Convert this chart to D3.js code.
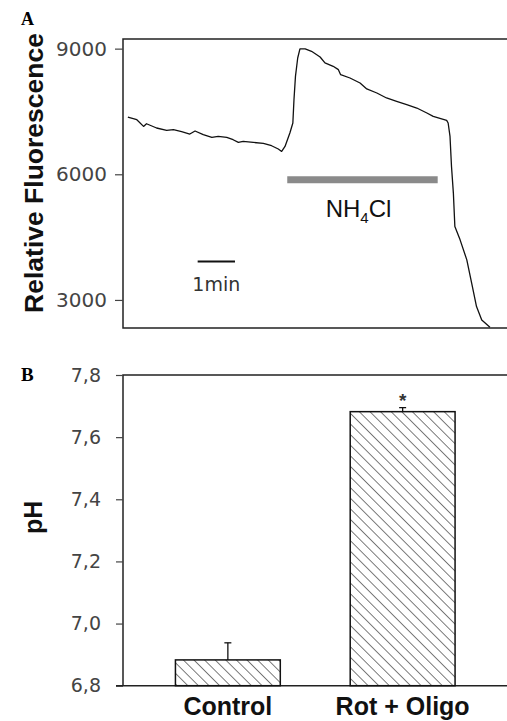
<!DOCTYPE html>
<html>
<head>
<meta charset="utf-8">
<script src="https://cdn.jsdelivr.net/npm/d3@7"></script>
<style>
  body { margin: 0; background: #fff; }
  svg { display: block; }
</style>
</head>
<body>
<div id="chart"></div>
<script>
// Panel A: fluorescence trace (time in min, relative fluorescence)
const traceTime = [0.13, 0.37, 0.55, 0.63, 0.90, 1.17, 1.35, 1.57, 1.79, 1.93, 2.15, 2.38, 2.55, 2.78, 2.95,
  3.09, 3.22, 3.49, 3.76, 3.98, 4.16, 4.25, 4.34, 4.47, 4.55, 4.58, 4.62, 4.68, 4.74, 4.88, 5.05, 5.28,
  5.41, 5.63, 5.77, 5.83, 6.08, 6.35, 6.53, 6.80, 7.06, 7.33, 7.60, 7.87, 8.14, 8.31, 8.67, 8.71, 8.76,
  8.80, 8.85, 8.89, 9.03, 9.21, 9.34, 9.47, 9.61, 9.83];
const traceValue = [7367, 7303, 7143, 7207, 7105, 7047, 7064, 7016, 6961, 7033, 6945, 6880, 6904, 6880, 6825,
  6761, 6785, 6761, 6737, 6682, 6603, 6546, 6665, 6985, 7224, 7781, 8338, 8777, 8992, 8992, 8936, 8801,
  8658, 8578, 8498, 8379, 8299, 8180, 8037, 7941, 7822, 7741, 7662, 7582, 7463, 7382, 7286, 7224, 6904,
  6187, 5551, 4753, 4435, 3957, 3400, 2841, 2523, 2349];
const ticksA = [3000, 6000, 9000];
const nh4clSpan = [4.40, 8.43];   // minutes
const nh4clLevel = 5870;
const scaleBarSpan = [2, 3];      // 1 min
const scaleBarLevel = 3920;

// Panel B: pH bars
const groups = ["Control", "Rot + Oligo"];
const phMean = [6.883, 7.682];
const phErr = [0.055, 0.013];
const phMarks = ["", "*"];
const ticksB = [6.8, 7.0, 7.2, 7.4, 7.6, 7.8];

const W = 507, H = 721;
const svg = d3.select('#chart').append('svg')
  .attr('width', W)
  .attr('height', H);

// hatch "\\\\" for the bars
const defs = svg.append('defs');
const hatch = defs.append('pattern')
  .attr('id', 'hatch')
  .attr('patternUnits', 'userSpaceOnUse')
  .attr('width', 7.5)
  .attr('height', 7.5)
  .attr('patternTransform', 'rotate(-45)');
hatch.append('line')
  .attr('x1', 0).attr('y1', 0)
  .attr('x2', 0).attr('y2', 7.5)
  .attr('stroke', '#111')
  .attr('stroke-width', 1.1);

const tickFont = '"DejaVu Sans", sans-serif';
const boldFont = '"Liberation Sans", Arial, sans-serif';

// ---------- Panel A ----------
const xA = d3.scaleLinear().domain([0, 10.3]).range([123, 507.5]);
const yA = d3.scaleLinear().domain([2330, 9230]).range([328, 39]);

const gA = svg.append('g');

gA.append('path')
  .attr('d', `M${xA.range()[1] + 5},${yA.range()[1]}H${xA.range()[0]}V${yA.range()[0]}H${xA.range()[1] + 5}`)
  .attr('fill', 'none')
  .attr('stroke', '#222')
  .attr('stroke-width', 1.5);

const axA = gA.append('g')
  .attr('transform', `translate(${xA.range()[0]},0)`)
  .call(d3.axisLeft(yA).tickValues(ticksA).tickSize(8).tickPadding(8).tickFormat(d3.format('d')));
axA.select('.domain').remove();
axA.selectAll('line').attr('stroke', '#444').attr('stroke-width', 1.2);
axA.selectAll('text')
  .attr('font-family', tickFont)
  .attr('font-size', 20)
  .attr('fill', '#444');

const trace = traceTime.map((t, i) => [t, traceValue[i]]);
gA.append('path')
  .datum(trace)
  .attr('fill', 'none')
  .attr('stroke', '#111')
  .attr('stroke-width', 1.3)
  .attr('stroke-linejoin', 'round')
  .attr('d', d3.line().x(d => xA(d[0])).y(d => yA(d[1])));

// NH4Cl bar
gA.append('line')
  .attr('x1', xA(nh4clSpan[0])).attr('x2', xA(nh4clSpan[1]))
  .attr('y1', yA(nh4clLevel)).attr('y2', yA(nh4clLevel))
  .attr('stroke', '#8a8a8a')
  .attr('stroke-width', 7);

const nh = gA.append('text')
  .attr('x', xA((nh4clSpan[0] + nh4clSpan[1]) / 2) - 4)
  .attr('y', yA(nh4clLevel) + 37)
  .attr('text-anchor', 'middle')
  .attr('font-family', boldFont)
  .attr('font-size', 24)
  .attr('fill', '#111');
nh.append('tspan').text('NH');
nh.append('tspan').attr('font-size', 15).attr('dy', 6).text('4');
nh.append('tspan').attr('dy', -6).text('Cl');

// 1 min scale bar
gA.append('line')
  .attr('x1', xA(scaleBarSpan[0])).attr('x2', xA(scaleBarSpan[1]))
  .attr('y1', yA(scaleBarLevel)).attr('y2', yA(scaleBarLevel))
  .attr('stroke', '#111')
  .attr('stroke-width', 2);
gA.append('text')
  .attr('x', xA((scaleBarSpan[0] + scaleBarSpan[1]) / 2))
  .attr('y', yA(scaleBarLevel) + 30)
  .attr('text-anchor', 'middle')
  .attr('font-family', tickFont)
  .attr('font-size', 19)
  .attr('fill', '#333')
  .text('1min');

gA.append('text')
  .attr('transform', `translate(43,173) rotate(-90)`)
  .attr('text-anchor', 'middle')
  .attr('font-family', boldFont)
  .attr('font-weight', 'bold')
  .attr('font-size', 26.5)
  .attr('fill', '#111')
  .text('Relative Fluorescence');

svg.append('text')
  .attr('x', 21).attr('y', 25)
  .attr('font-family', '"Liberation Serif", "Times New Roman", serif')
  .attr('font-weight', 'bold')
  .attr('font-size', 18)
  .text('A');

// ---------- Panel B ----------
const xB = d3.scaleBand().domain(groups).range([123, 507.5]).paddingInner(0.4).paddingOuter(0.3);
const yB = d3.scaleLinear().domain([6.8, 7.8]).range([685.7, 375]);

const gB = svg.append('g');

gB.append('path')
  .attr('d', `M${xB.range()[1] + 5},${yB.range()[1]}H${xB.range()[0]}V${yB.range()[0]}`)
  .attr('fill', 'none')
  .attr('stroke', '#222')
  .attr('stroke-width', 1.5);

const axB = gB.append('g')
  .attr('transform', `translate(${xB.range()[0]},0)`)
  .call(d3.axisLeft(yB).tickValues(ticksB).tickSize(7).tickPadding(15)
    .tickFormat(d => d3.format('.1f')(d).replace('.', ',')));
axB.select('.domain').remove();
axB.selectAll('line').attr('stroke', '#444').attr('stroke-width', 1.2);
axB.selectAll('text')
  .attr('font-family', tickFont)
  .attr('font-size', 19)
  .attr('fill', '#444');

// baseline
gB.append('line')
  .attr('x1', xB.range()[0] - 7).attr('x2', xB.range()[1] + 5)
  .attr('y1', yB.range()[0]).attr('y2', yB.range()[0])
  .attr('stroke', '#222')
  .attr('stroke-width', 1.5);

const bars = gB.selectAll('g.bar')
  .data(groups.map((g, i) => ({ g, m: phMean[i], e: phErr[i], mark: phMarks[i] })))
  .join('g')
  .attr('class', 'bar');

bars.append('line')
  .attr('x1', d => xB(d.g) + xB.bandwidth() / 2)
  .attr('x2', d => xB(d.g) + xB.bandwidth() / 2)
  .attr('y1', d => yB(d.m))
  .attr('y2', d => yB(d.m + d.e))
  .attr('stroke', '#111')
  .attr('stroke-width', 1.3);
bars.append('line')
  .attr('x1', d => xB(d.g) + xB.bandwidth() / 2 - 3.5)
  .attr('x2', d => xB(d.g) + xB.bandwidth() / 2 + 3.5)
  .attr('y1', d => yB(d.m + d.e))
  .attr('y2', d => yB(d.m + d.e))
  .attr('stroke', '#111')
  .attr('stroke-width', 1.3);

bars.append('rect')
  .attr('x', d => xB(d.g))
  .attr('y', d => yB(d.m))
  .attr('width', xB.bandwidth())
  .attr('height', d => yB.range()[0] - yB(d.m))
  .attr('fill', 'url(#hatch)')
  .attr('stroke', '#111')
  .attr('stroke-width', 1.5);

bars.append('text')
  .attr('x', d => xB(d.g) + xB.bandwidth() / 2)
  .attr('y', d => yB(d.m + d.e) - 1)
  .attr('text-anchor', 'middle')
  .attr('font-family', boldFont)
  .attr('font-weight', 'bold')
  .attr('font-size', 19)
  .attr('fill', '#333')
  .text(d => d.mark);

gB.selectAll('text.cat')
  .data(groups)
  .join('text')
  .attr('class', 'cat')
  .attr('x', d => xB(d) + xB.bandwidth() / 2)
  .attr('y', 715)
  .attr('text-anchor', 'middle')
  .attr('font-family', boldFont)
  .attr('font-weight', 'bold')
  .attr('font-size', 25)
  .attr('fill', '#111')
  .text(d => d);

gB.append('text')
  .attr('transform', `translate(42,${(yB.range()[0] + yB.range()[1]) / 2 - 13}) rotate(-90)`)
  .attr('text-anchor', 'middle')
  .attr('font-family', boldFont)
  .attr('font-weight', 'bold')
  .attr('font-size', 25)
  .attr('fill', '#111')
  .text('pH');

svg.append('text')
  .attr('x', 21).attr('y', 381)
  .attr('font-family', '"Liberation Serif", "Times New Roman", serif')
  .attr('font-weight', 'bold')
  .attr('font-size', 19)
  .text('B');
</script>
</body>
</html>
